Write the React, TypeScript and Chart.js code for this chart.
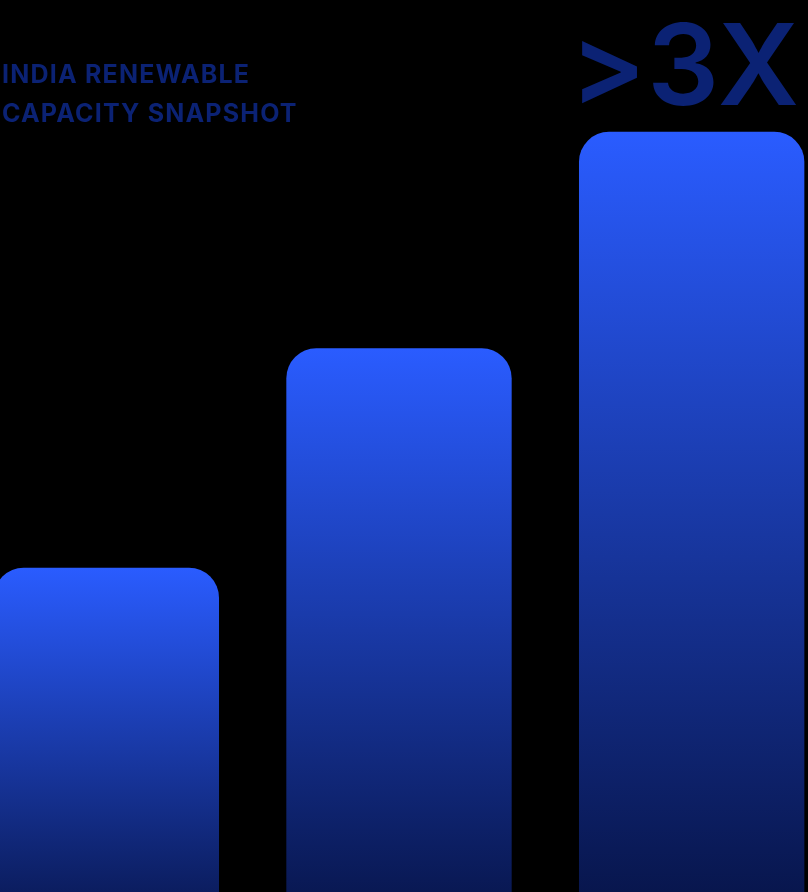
import { useEffect, useRef } from 'react'
import { Chart, registerables } from 'chart.js'

Chart.register(...registerables)

// capacity snapshot, three periods (relative GW)
const PERIODS = ['Then', 'Now', 'Target']
const CAPACITY = [61.3, 95.6, 129.4]
const Y_MAX = 150

const TITLE_LINES = ['INDIA RENEWABLE', 'CAPACITY SNAPSHOT']
const HEADLINE = '>3X'

const BAR_TOP = '#2a5cff'
const BAR_BOTTOM = '#05103e'
const TEXT_BLUE = '#0b2274'

export default function App() {
  const canvasRef = useRef<HTMLCanvasElement>(null)
  const chartRef = useRef<Chart | null>(null)

  useEffect(() => {
    document.body.style.margin = '0'
    document.body.style.background = '#000'
    const ctx = canvasRef.current?.getContext('2d')
    if (!ctx) return

    chartRef.current = new Chart(ctx, {
      type: 'bar',
      data: {
        labels: PERIODS,
        datasets: [
          {
            data: CAPACITY,
            backgroundColor: (c: any) => {
              const { chart, dataIndex } = c
              const area = chart.chartArea
              if (!area || !chart.scales.y) return BAR_TOP
              const top = chart.scales.y.getPixelForValue(CAPACITY[dataIndex])
              const g = chart.ctx.createLinearGradient(0, top, 0, area.bottom)
              g.addColorStop(0, BAR_TOP)
              g.addColorStop(1, BAR_BOTTOM)
              return g
            },
            borderWidth: 0,
            borderRadius: { topLeft: 30, topRight: 30, bottomLeft: 0, bottomRight: 0 },
            borderSkipped: 'start',
            barPercentage: 0.77,
            categoryPercentage: 1,
          },
        ],
      },
      options: {
        animation: false,
        responsive: true,
        maintainAspectRatio: false,
        layout: { padding: 0 },
        plugins: { legend: { display: false }, tooltip: { enabled: false } },
        scales: {
          x: { display: false },
          y: { display: false, min: 0, max: Y_MAX },
        },
      },
    })

    return () => {
      chartRef.current?.destroy()
      chartRef.current = null
    }
  }, [])

  return (
    <div style={{ position: 'relative', width: 808, height: 892, overflow: 'hidden', background: '#000' }}>
      <div style={{ position: 'absolute', left: -40, top: 0, width: 878, height: 960 }}>
        <canvas ref={canvasRef}></canvas>
      </div>
      <div
        style={{
          position: 'absolute',
          left: 2,
          top: 55,
          fontFamily: 'Inter, sans-serif',
          fontWeight: 700,
          fontSize: 25,
          lineHeight: '39px',
          color: TEXT_BLUE,
          letterSpacing: '1.2px',
        }}
      >
        {TITLE_LINES.map((line) => (
          <div key={line}>{line}</div>
        ))}
      </div>
      <div
        style={{
          position: 'absolute',
          right: 8,
          top: 8,
          fontFamily: 'Inter, sans-serif',
          fontWeight: 600,
          fontSize: 113,
          lineHeight: '113px',
          color: TEXT_BLUE,
          letterSpacing: '1px',
        }}
      >
        {HEADLINE}
      </div>
    </div>
  )
}
